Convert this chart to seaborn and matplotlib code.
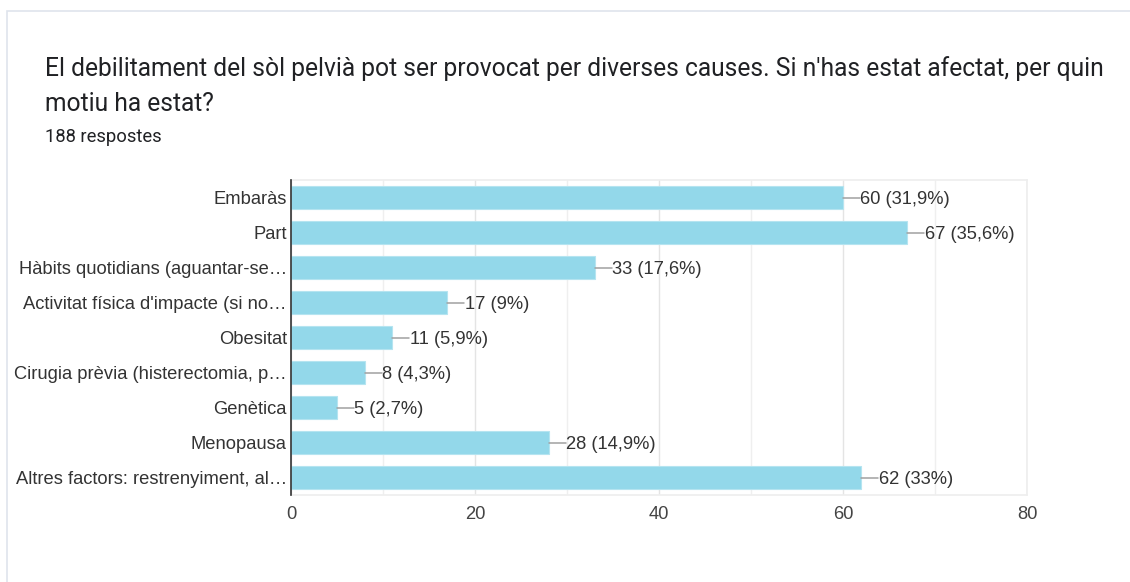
import matplotlib
matplotlib.use("Agg")
import matplotlib.pyplot as plt
from matplotlib.patches import Rectangle
from matplotlib.ticker import MultipleLocator
import seaborn as sns
import pandas as pd

# Survey responses
title = "El debilitament del sòl pelvià pot ser provocat per diverses causes. Si n'has estat afectat, per quin\nmotiu ha estat?"
total_responses = 188
categories = [
    "Embaràs",
    "Part",
    "Hàbits quotidians (aguantar-se…",
    "Activitat física d'impacte (si no…",
    "Obesitat",
    "Cirugia prèvia (histerectomia, p…",
    "Genètica",
    "Menopausa",
    "Altres factors: restrenyiment, al…",
]
counts = [60, 67, 33, 17, 11, 8, 5, 28, 62]
x_ticks = [0, 20, 40, 60, 80]

df = pd.DataFrame({"causa": categories, "n": counts})

sns.set_theme(style="white")
plt.rcParams["font.family"] = ["Liberation Sans", "DejaVu Sans"]

fig = plt.figure(figsize=(11.3, 5.82), dpi=100)
ax = fig.add_axes([291 / 1130, 1 - 495 / 582, (1027 - 291) / 1130, (495 - 180) / 582])

# Card outline
fig.patches.append(Rectangle((7 / 1130, -0.05), 1.2, 1 - 11 / 582 + 0.05,
                             transform=fig.transFigure, fill=False,
                             edgecolor="#dfe4ec", linewidth=1.2, zorder=0))

sns.barplot(data=df, x="n", y="causa", orient="h", color="#93d8ea",
            saturation=1, width=0.63, edgecolor="#b5e4f0", linewidth=0.8, ax=ax)

ax.set_xlim(0, 80)
ax.set_ylim(len(categories) - 0.5, -0.5)
ax.set_xticks(x_ticks)
ax.xaxis.set_minor_locator(MultipleLocator(10))
ax.grid(axis="x", which="major", color="#e4e4e4", linewidth=1)
ax.grid(axis="x", which="minor", color="#efefef", linewidth=1)
ax.set_axisbelow(True)
ax.set_xlabel("")
ax.set_ylabel("")
ax.tick_params(axis="both", length=0, labelsize=13.2, colors="#333333")
ax.tick_params(axis="x", pad=8, colors="#444444")
ax.tick_params(axis="y", pad=3)

for side in ("top", "right", "bottom"):
    ax.spines[side].set_color("#eeeeee")
    ax.spines[side].set_linewidth(1.2)
ax.spines["left"].set_color("#333333")
ax.spines["left"].set_linewidth(1.2)
ax.spines["left"].set_zorder(5)


def pct_label(v):
    p = round(v / total_responses * 100, 1)
    s = f"{p:.1f}".rstrip("0").rstrip(".").replace(".", ",")
    return f"{v} ({s}%)"


lead = 1.85
for i, v in enumerate(counts):
    ax.plot([v, v + lead], [i, i], color="#a0a0a0", linewidth=1.1, zorder=4)
    ax.text(v + lead + 0.05, i, pct_label(v), va="center_baseline", ha="left",
            fontsize=13.2, color="#333333")

fig.text(45 / 1130, 1 - 56 / 582, title, fontsize=17.7, color="#202124",
         family="Roboto", va="top", ha="left", linespacing=1.6)
fig.text(45 / 1130, 1 - 142 / 582, f"{total_responses} respostes", fontsize=13.2,
         color="#202124", family="Roboto", va="baseline", ha="left")

fig.savefig("out.png", dpi=100, facecolor="white")
